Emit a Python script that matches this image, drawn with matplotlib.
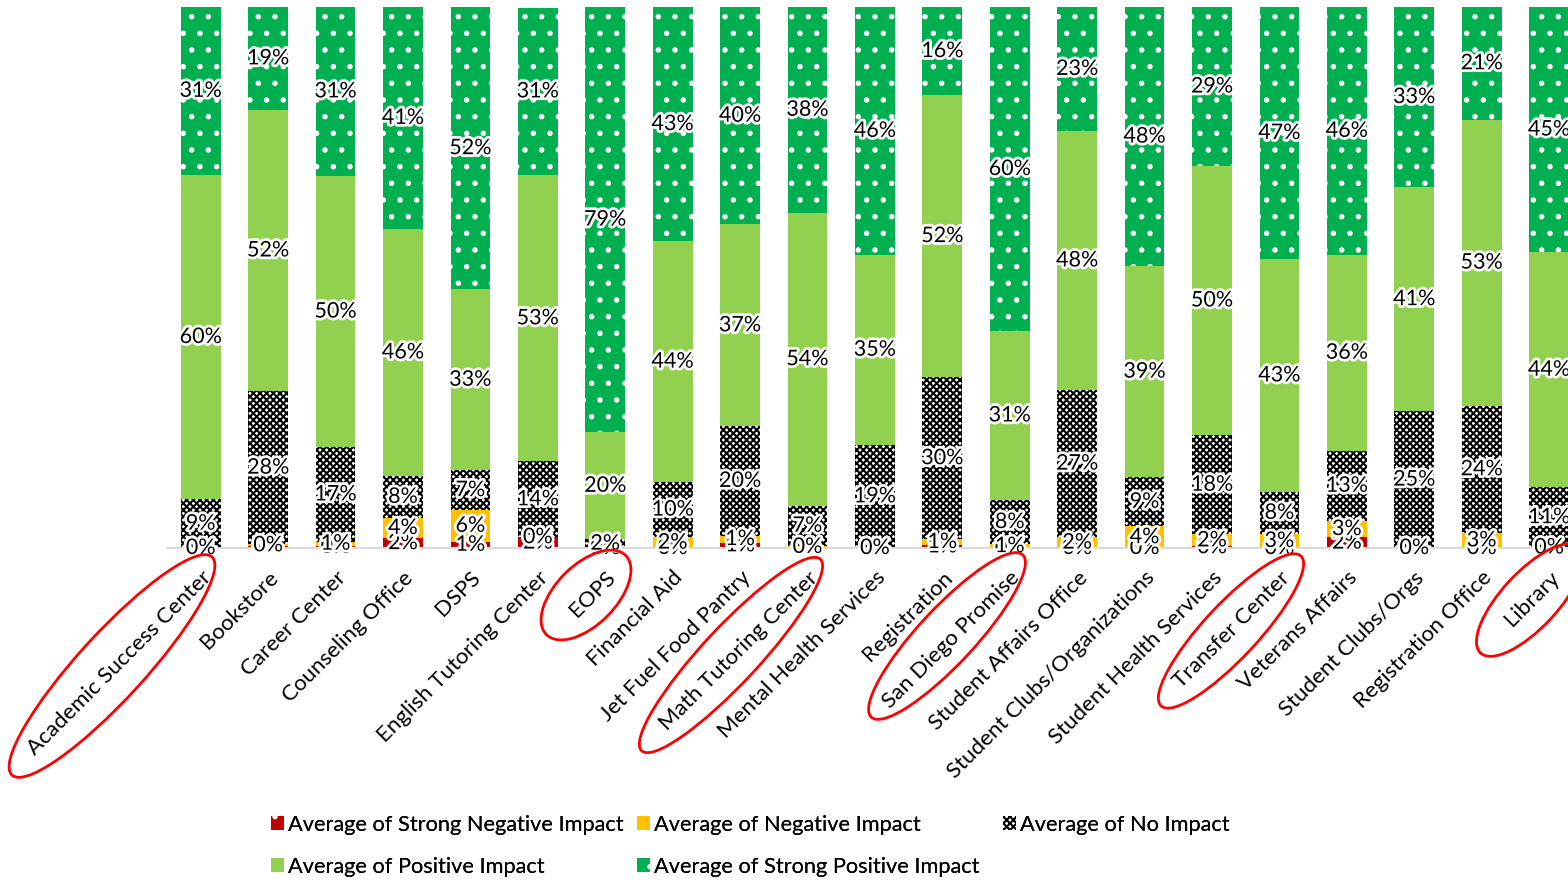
import numpy as np
import matplotlib.pyplot as plt
from matplotlib.patches import Patch, Ellipse
import matplotlib.patheffects as pe

plt.rcParams['font.family'] = ['Lato', 'DejaVu Sans']
plt.rcParams['hatch.linewidth'] = 1.5

categories = ['Academic Success Center', 'Bookstore', 'Career Center', 'Counseling Office', 'DSPS',
              'English Tutoring Center', 'EOPS', 'Financial Aid', 'Jet Fuel Food Pantry',
              'Math Tutoring Center', 'Mental Health Services', 'Registration', 'San Diego Promise',
              'Student Affairs Office', 'Student Clubs/Organizations', 'Student Health Services',
              'Transfer Center', 'Veterans Affairs', 'Student Clubs/Orgs', 'Registration Office', 'Library']

# percent of responses per category
strong_negative = [0, 0.3, 0.4, 1.8, 1.2, 2, 0, 0, 1, 0, 0, 0.6, 0, 0, 0, 0.3, 0, 2, 0, 0, 0]
negative = [0, 0.4, 0.8, 3.8, 5.8, 0, 0, 2, 1.3, 0.4, 0, 1.0, 0.7, 2, 4, 2.2, 2.6, 3, 0, 2.8, 0.2]
no_impact = [9, 28.3, 17.4, 7.7, 7.4, 14, 1.6, 10.2, 20.2, 7.4, 19.1, 30, 8.2, 27.2, 9.1, 18.4, 7.8, 13,
             25.3, 23.5, 11]
positive = [60, 52, 50.2, 45.7, 33.4, 52.9, 19.8, 44.5, 37.3, 54.2, 35.1, 52.1, 31.2, 47.9, 39, 49.7, 43,
            36.2, 41.4, 52.9, 43.5]
strong_positive = [31, 19, 31.2, 41, 52.2, 31, 78.6, 43.3, 40.2, 38, 45.8, 16.3, 59.9, 22.9, 47.9, 29.4,
                   46.6, 45.8, 33.3, 20.8, 45.3]

series = [
    ('Average of Strong Negative Impact', strong_negative, dict(color='#C00000', edgecolor='white', hatch='.')),
    ('Average of Negative Impact', negative, dict(color='#FFC000', edgecolor='#FFC000')),
    ('Average of No Impact', no_impact, dict(color='white', edgecolor='black', hatch='xxxxx')),
    ('Average of Positive Impact', positive, dict(color='#92D050', edgecolor='#92D050')),
    ('Average of Strong Positive Impact', strong_positive, dict(color='#00B050', edgecolor='white', hatch='.')),
]

fig = plt.figure(figsize=(15.68, 8.81), dpi=100)
ax = fig.add_axes([167 / 1568, 333 / 881, 1401 / 1568, 541 / 881])

x = np.arange(len(categories))
bottom = np.zeros(len(categories))
handles = []
for name, vals, style in series:
    vals = np.array(vals, dtype=float)
    ax.bar(x, vals, 0.59, bottom=bottom, linewidth=0, **style)
    handles.append(Patch(facecolor=style['color'], edgecolor=style['edgecolor'],
                         hatch=style.get('hatch'), linewidth=0, label=name))
    for xi, b, v in zip(x, bottom, vals):
        ax.text(xi, b + v / 2, f'{round(v):.0f}%', ha='center', va='center', fontsize=15.5,
                path_effects=[pe.withStroke(linewidth=4, foreground='white')], zorder=5)
    bottom += vals

ax.set_xlim(-0.5, 20.28)
ax.set_ylim(0, 100)
ax.set_yticks([])
for s in ['top', 'right', 'left']:
    ax.spines[s].set_visible(False)
ax.spines['bottom'].set_color('#D9D9D9')
ax.spines['bottom'].set_linewidth(1.5)
ax.set_xticks(x)
ax.set_xticklabels(categories, rotation=45, ha='right', va='top', rotation_mode='anchor', fontsize=16)
ax.tick_params(axis='x', length=0, pad=14)

# legend: three equal-width columns, filled row by row like Excel does
columns = [[0, 3], [1, 4], [2]]
col_left = [260, 626, 992]
for idx, left in zip(columns, col_left):
    leg = fig.legend([handles[i] for i in idx], [handles[i].get_label() for i in idx],
                     loc='upper left', bbox_to_anchor=(left / 1568, 1 - 804 / 881), frameon=False,
                     fontsize=15.7, handlelength=0.6, handleheight=0.6, handletextpad=0.2,
                     labelspacing=1.0, borderpad=0)
    fig.add_artist(leg)

# red circles drawn around selected labels
over = fig.add_axes([0, 0, 1, 1])
over.set_xlim(0, 1568)
over.set_ylim(881, 0)
over.axis('off')
circles = [(112, 666, 296, 66, -47.5), (586, 595, 112, 60, -45), (731, 655, 262, 56, -47),
           (947, 636, 222, 56, -47), (1231, 631, 205, 54, -47), (1530, 600, 145, 56, -47)]
for cx, cy, w, h, a in circles:
    over.add_patch(Ellipse((cx, cy), w, h, angle=a, fill=False, edgecolor='#FF0000', linewidth=2))

fig.savefig('out.png', dpi=100)
